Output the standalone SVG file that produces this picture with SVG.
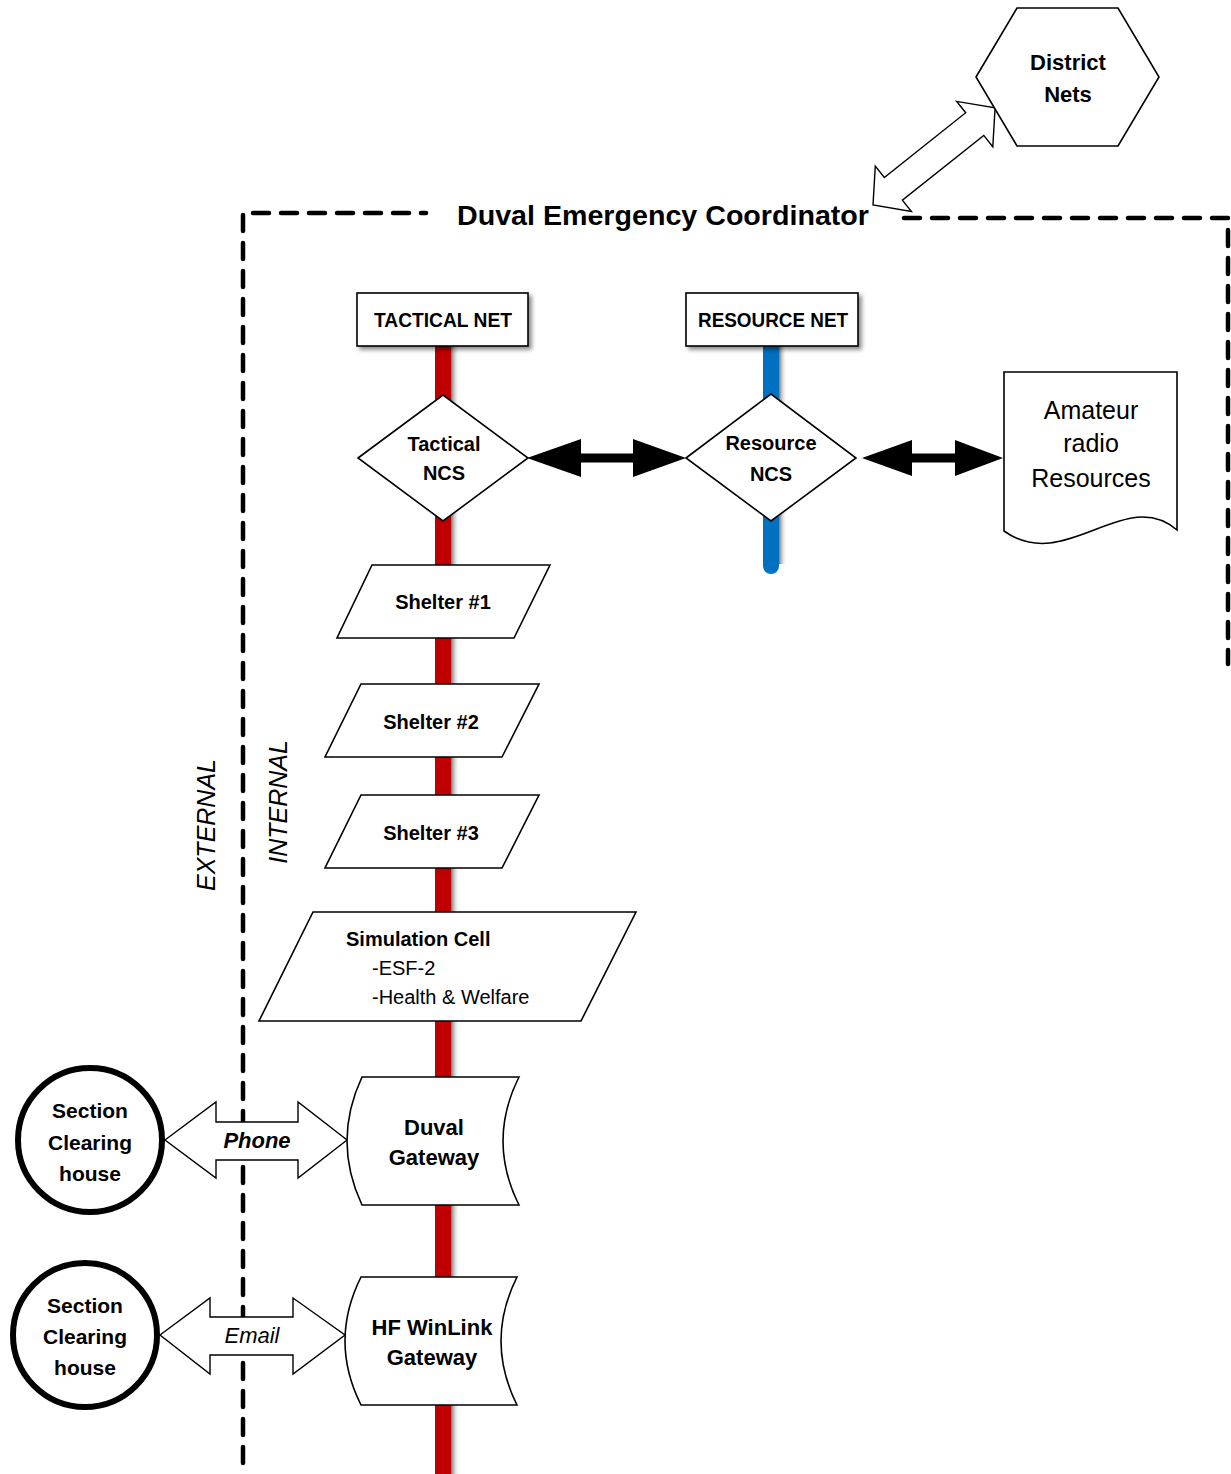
<svg xmlns="http://www.w3.org/2000/svg" width="1231" height="1474" viewBox="0 0 1231 1474">
<style>
text{font-family:"Liberation Sans",Arial,sans-serif;fill:#000}
.b{font-weight:bold}
.n{fill:#fff;stroke:#000;stroke-width:1.6}
.c{fill:#fff;stroke:#000;stroke-width:6}
.blk{fill:#fff;stroke:#000;stroke-width:1.4}
.dash{fill:none;stroke:#000;stroke-width:4.5;stroke-dasharray:16 12;stroke-linecap:round}
</style>
<defs>
<filter id="sh" x="-10%" y="-10%" width="130%" height="140%">
<feDropShadow dx="3" dy="3" stdDeviation="2" flood-color="#000" flood-opacity="0.45"/>
</filter>
<linearGradient id="gs" x1="0" y1="0" x2="1" y2="0">
<stop offset="0" stop-color="#777"/>
<stop offset="1" stop-color="#fff" stop-opacity="0"/>
</linearGradient>
</defs>
<rect width="1231" height="1474" fill="#fff"/>
<g id="boundary">
<path class="dash" d="M243,1463 V213 H426"/>
<path class="dash" d="M904,218 H1228 V664"/>
<text class="b" x="663" y="225" font-size="28" text-anchor="middle" textLength="412" lengthAdjust="spacingAndGlyphs">Duval Emergency Coordinator</text>
<text x="0" y="0" font-size="25" font-style="italic" text-anchor="middle" transform="translate(215,825) rotate(-90)">EXTERNAL</text>
<text x="0" y="0" font-size="25" font-style="italic" text-anchor="middle" transform="translate(287,802) rotate(-90)">INTERNAL</text>
</g>
<g id="connectors">
<rect x="451" y="346" width="9" height="1128" fill="url(#gs)"/>
<rect x="435" y="346" width="16" height="1128" fill="#C00000"/>
<rect x="779" y="346" width="8" height="218" fill="url(#gs)"/>
<path d="M763,346 H779 V566 A8,8 0 0 1 763,566 Z" fill="#0070C0"/>
<polygon points="527,458 581,439 581,453.5 633,453.5 633,439 686,458 633,477 633,462.5 581,462.5 581,477" fill="#000"/>
<polygon points="862,458 912,440 912,453.5 955,453.5 955,440 1003,458 955,476 955,462.5 912,462.5 912,476" fill="#000"/>
<polygon class="blk" transform="translate(873,205) rotate(-38.5)" points="0,0 26,-29 26,-14.5 130,-14.5 130,-29 156,0 130,29 130,14.5 26,14.5 26,29"/>
<polygon class="blk" points="165,1140 216,1102 216,1122 298,1122 298,1102 347,1140 298,1178 298,1160 216,1160 216,1178"/>
<polygon class="blk" points="160,1335 210,1298 210,1317 293,1317 293,1298 345,1335 293,1374 293,1355 210,1355 210,1374"/>
<text x="257" y="1148" font-size="22" font-style="italic" font-weight="bold" text-anchor="middle">Phone</text>
<text x="252" y="1343" font-size="22" font-style="italic" text-anchor="middle">Email</text>
</g>
<g id="district-nets">
<polygon class="n" points="976,77 1017,8 1118,8 1159,77 1118,146 1017,146"/>
<text class="b" x="1068" y="70" font-size="22" text-anchor="middle">District</text>
<text class="b" x="1068" y="102" font-size="22" text-anchor="middle">Nets</text>
</g>
<g id="tactical-net">
<rect class="n" x="357" y="293" width="171" height="53" filter="url(#sh)"/>
<text class="b" x="443" y="327" font-size="20" text-anchor="middle" textLength="138" lengthAdjust="spacingAndGlyphs">TACTICAL NET</text>
</g>
<g id="resource-net">
<rect class="n" x="686" y="293" width="172" height="53" filter="url(#sh)"/>
<text class="b" x="773" y="327" font-size="20" text-anchor="middle" textLength="150" lengthAdjust="spacingAndGlyphs">RESOURCE NET</text>
</g>
<g id="tactical-ncs">
<polygon class="n" points="358,458 443,395 528,458 443,521"/>
<text class="b" x="444" y="451" font-size="20" text-anchor="middle">Tactical</text>
<text class="b" x="444" y="480" font-size="20" text-anchor="middle">NCS</text>
</g>
<g id="resource-ncs">
<polygon class="n" points="686,458 771,394 856,458 771,521"/>
<text class="b" x="771" y="450" font-size="20" text-anchor="middle">Resource</text>
<text class="b" x="771" y="481" font-size="20" text-anchor="middle">NCS</text>
</g>
<g id="amateur-radio">
<path class="n" stroke-width="2" d="M1004,372 H1177 V530 C1125,485 1065,575 1004,531 Z"/>
<text x="1091" y="419" font-size="25" text-anchor="middle">Amateur</text>
<text x="1091" y="452" font-size="25" text-anchor="middle">radio</text>
<text x="1091" y="487" font-size="25" text-anchor="middle">Resources</text>
</g>
<g id="shelter-1">
<polygon class="n" points="372,565 550,565 514,638 337,638"/>
<text class="b" x="443" y="609" font-size="20" text-anchor="middle">Shelter #1</text>
</g>
<g id="shelter-2">
<polygon class="n" points="361,684 539,684 502,757 325,757"/>
<text class="b" x="431" y="729" font-size="20" text-anchor="middle">Shelter #2</text>
</g>
<g id="shelter-3">
<polygon class="n" points="361,795 539,795 502,868 325,868"/>
<text class="b" x="431" y="840" font-size="20" text-anchor="middle">Shelter #3</text>
</g>
<g id="simulation-cell">
<polygon class="n" points="313,912 636,912 581,1021 259,1021"/>
<text class="b" x="346" y="946" font-size="20">Simulation Cell</text>
<text x="372" y="975" font-size="20">-ESF-2</text>
<text x="372" y="1004" font-size="20">-Health &amp; Welfare</text>
</g>
<g id="duval-gateway">
<path class="n" d="M362,1077 H519 Q487,1141 519,1205 H362 Q332,1141 362,1077 Z"/>
<text class="b" x="434" y="1135" font-size="22" text-anchor="middle">Duval</text>
<text class="b" x="434" y="1165" font-size="22" text-anchor="middle">Gateway</text>
</g>
<g id="hf-winlink-gateway">
<path class="n" d="M361,1277 H517 Q485,1341 517,1405 H361 Q329,1341 361,1277 Z"/>
<text class="b" x="432" y="1335" font-size="22" text-anchor="middle">HF WinLink</text>
<text class="b" x="432" y="1365" font-size="22" text-anchor="middle">Gateway</text>
</g>
<g id="section-clearing-1">
<circle class="c" cx="90" cy="1140" r="72"/>
<text class="b" x="90" y="1118" font-size="21" text-anchor="middle">Section</text>
<text class="b" x="90" y="1150" font-size="21" text-anchor="middle">Clearing</text>
<text class="b" x="90" y="1181" font-size="21" text-anchor="middle">house</text>
</g>
<g id="section-clearing-2">
<circle class="c" cx="85" cy="1335" r="72"/>
<text class="b" x="85" y="1313" font-size="21" text-anchor="middle">Section</text>
<text class="b" x="85" y="1344" font-size="21" text-anchor="middle">Clearing</text>
<text class="b" x="85" y="1375" font-size="21" text-anchor="middle">house</text>
</g>
</svg>
